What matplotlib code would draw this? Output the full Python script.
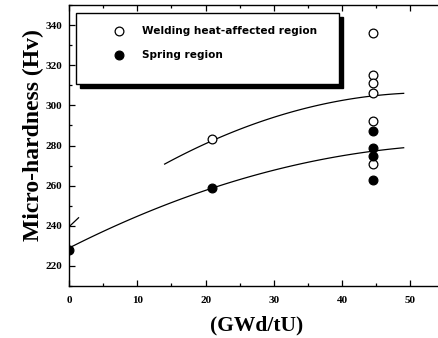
import matplotlib
matplotlib.use("Agg")
import matplotlib.pyplot as plt
import numpy as np
from matplotlib.patches import Rectangle
from matplotlib.ticker import MultipleLocator

# Data
weld_x = [21, 44.5, 44.5, 44.5, 44.5, 44.5, 44.5]
weld_y = [283, 336, 315, 311, 306, 292, 271]
spring_x = [0, 21, 44.5, 44.5, 44.5, 44.5]
spring_y = [228, 259, 287, 279, 275, 263]

# Trend curves
weld_fit_x = [14, 21, 32, 44.5, 49]
weld_fit_y = [270, 284, 295, 305, 306]
spring_fit_x = [0, 10, 21, 44.5, 49]
spring_fit_y = [229, 244.5, 259, 277, 279]
stub_x = [0, 1.4]
stub_y = [239.5, 244]

legend_labels = ["Welding heat-affected region", "Spring region"]
xticks = [0, 10, 20, 30, 40, 50]
yticks = [220, 240, 260, 280, 300, 320, 340]

fig = plt.figure(figsize=(4.39, 3.38), dpi=100)
ax = fig.add_axes([69/439, 52/338, 370/439, 281/338])
ax.set_xlim(0, 370/6.83)
ax.set_ylim(210, 350)

serif = "Liberation Serif"

# fit curves
for fx, fy in [(weld_fit_x, weld_fit_y), (spring_fit_x, spring_fit_y)]:
    c = np.polyfit(fx, fy, 2)
    xs = np.linspace(fx[0], fx[-1], 100)
    ax.plot(xs, np.polyval(c, xs), color="black", lw=0.9, zorder=2)
ax.plot(stub_x, stub_y, color="black", lw=0.9, zorder=2)

ax.plot(weld_x, weld_y, "o", ms=6.3, mfc="white", mec="black", mew=0.9, zorder=3)
ax.plot(spring_x, spring_y, "o", ms=6.3, mfc="black", mec="black", mew=0.9, zorder=3)

# Legend box with shadow
tr = ax.transAxes
x0, x1, yb, yt = 0.019, 0.730, 0.719, 0.972
sx, sy = 4/370, 4/281
ax.add_patch(Rectangle((x0+sx, yb-sy), x1-x0, yt-yb, transform=tr, facecolor="black",
                       edgecolor="black", zorder=5, clip_on=False))
ax.add_patch(Rectangle((x0, yb), x1-x0, yt-yb, transform=tr, facecolor="white",
                       edgecolor="black", lw=1.0, zorder=6, clip_on=False))
rows = [0.907, 0.822]
ax.plot([0.135], [rows[0]], "o", ms=6.3, mfc="white", mec="black", mew=0.9,
        transform=tr, zorder=7, clip_on=False)
ax.plot([0.135], [rows[1]], "o", ms=6.3, mfc="black", mec="black", mew=0.9,
        transform=tr, zorder=7, clip_on=False)
for lab, yy in zip(legend_labels, rows):
    ax.text(0.197, yy, lab, transform=tr, fontsize=7.6, fontweight="bold",
            family="DejaVu Sans", va="center", ha="left", zorder=7)

# axes styling
ax.spines["right"].set_visible(False)
for s in ["left", "bottom", "top"]:
    ax.spines[s].set_linewidth(1.0)
ax.set_xticks(xticks)
ax.set_yticks(yticks)
ax.xaxis.set_minor_locator(MultipleLocator(5))
ax.yaxis.set_minor_locator(MultipleLocator(10))
ax.tick_params(which="both", direction="in", top=True, right=False, width=0.9)
ax.tick_params(which="major", length=4)
ax.tick_params(which="minor", length=2.5)
ax.tick_params(axis="x", pad=7)
ax.tick_params(axis="y", pad=5)
for lbl in ax.get_xticklabels() + ax.get_yticklabels():
    lbl.set_fontfamily(serif)
    lbl.set_fontweight("bold")
    lbl.set_fontsize(8)

ax.set_ylabel("Micro-hardness (Hv)", family=serif, fontweight="bold", fontsize=17)
ax.set_xlabel("(GWd/tU)", family=serif, fontweight="bold", fontsize=15.5)
ax.yaxis.set_label_coords((33-69)/370, (286-135)/281)
ax.xaxis.set_label_coords((257-69)/370, (286-325)/281)
ax.yaxis.label.set_va("center")
ax.xaxis.label.set_va("center")

fig.savefig("out.png", dpi=100)
